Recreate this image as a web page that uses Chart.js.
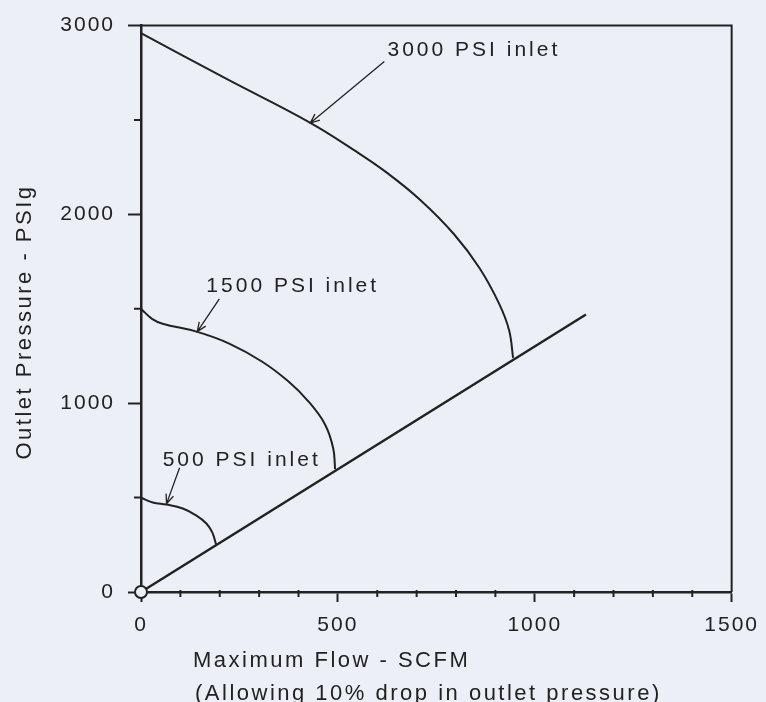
<!DOCTYPE html>
<html>
<head>
<meta charset="utf-8">
<script src="https://cdn.jsdelivr.net/npm/chart.js@4.4.1/dist/chart.umd.min.js"></script>
<style>
  html, body { margin: 0; padding: 0; background: #eceff5; }
  #wrap { width: 766px; height: 702px; }
</style>
</head>
<body>
<div id="wrap"><canvas id="flowChart" width="766" height="702"></canvas></div>
<script>
// Outlet pressure vs maximum flow, one curve per inlet pressure

const flow3000 = [0, 215, 430, 545, 625, 710, 795, 860, 910, 935, 945];
const press3000 = [2960, 2720, 2485, 2335, 2220, 2075, 1895, 1715, 1525, 1385, 1240];

const flow1500 = [0, 28, 55, 141, 224, 307, 374, 425, 467, 488, 493];
const press1500 = [1500, 1447, 1421, 1379, 1316, 1221, 1116, 1010, 889, 763, 650];

const flow500 = [0, 30, 65, 106, 141, 166, 181, 191];
const press500 = [500, 474, 463, 442, 405, 363, 316, 250];

// 10% drop limit line
const flowLimit = [0, 1130];
const pressLimit = [0, 1470];

const curveLabels = ['3000 PSI inlet', '1500 PSI inlet', '500 PSI inlet'];
const xTitle = ['Maximum Flow - SCFM', '(Allowing 10% drop in outlet pressure)'];
const yTitle = 'Outlet Pressure - PSIg';

const INK = '#222222';
const BG = '#eceff5';
const FONT = "'Liberation Sans', Arial, sans-serif";

const pts = (xs, ys) => xs.map((x, i) => ({ x: x, y: ys[i] }));
const isMajorX = v => v % 500 === 0;
const isMajorY = v => v % 1000 === 0;

// where the curve notes sit (data units): text start, arrow tail, arrow tip
const notes = [
    { text: curveLabels[0], at: [626, 2837], from: [618, 2810], to: [430, 2484] },
    { text: curveLabels[1], at: [166, 1589], from: [199, 1553], to: [143, 1379] },
    { text: curveLabels[2], at: [55, 668], from: [98, 658], to: [65, 468] }
];

function arrow(ctx, x1, y1, x2, y2) {
    const a = Math.atan2(y2 - y1, x2 - x1);
    const len = 10, spread = 0.4;
    ctx.beginPath();
    ctx.moveTo(x1, y1);
    ctx.lineTo(x2, y2);
    ctx.moveTo(x2 - len * Math.cos(a - spread), y2 - len * Math.sin(a - spread));
    ctx.lineTo(x2, y2);
    ctx.lineTo(x2 - len * Math.cos(a + spread), y2 - len * Math.sin(a + spread));
    ctx.stroke();
}

const paper = {
    id: 'paper',
    beforeDraw(chart) {
        const ctx = chart.ctx;
        ctx.save();
        ctx.fillStyle = BG;
        ctx.fillRect(0, 0, chart.width, chart.height);
        ctx.restore();
        ctx.letterSpacing = '2px';
    },
    afterDraw(chart) {
        const ctx = chart.ctx;
        const area = chart.chartArea;
        const xs = chart.scales.x, ys = chart.scales.y;
        ctx.save();
        ctx.strokeStyle = INK;
        ctx.lineCap = 'butt';

        // top and right frame
        ctx.lineWidth = 2;
        ctx.beginPath();
        ctx.moveTo(area.left, area.top);
        ctx.lineTo(area.right, area.top);
        ctx.lineTo(area.right, area.bottom);
        ctx.stroke();

        // minor ticks
        ctx.lineWidth = 2;
        ctx.beginPath();
        xs.ticks.forEach(t => {
            if (isMajorX(t.value)) return;
            const px = xs.getPixelForValue(t.value);
            ctx.moveTo(px, area.bottom - 2);
            ctx.lineTo(px, area.bottom + 5);
        });
        ys.ticks.forEach(t => {
            if (isMajorY(t.value)) return;
            const py = ys.getPixelForValue(t.value);
            ctx.moveTo(area.left - 7, py);
            ctx.lineTo(area.left, py);
        });
        ctx.stroke();

        // curve notes
        ctx.lineWidth = 1.3;
        ctx.fillStyle = INK;
        ctx.font = '21px ' + FONT;
        ctx.letterSpacing = '3px';
        ctx.textAlign = 'left';
        ctx.textBaseline = 'alphabetic';
        notes.forEach(n => {
            ctx.fillText(n.text, xs.getPixelForValue(n.at[0]), ys.getPixelForValue(n.at[1]));
            arrow(ctx,
                xs.getPixelForValue(n.from[0]), ys.getPixelForValue(n.from[1]),
                xs.getPixelForValue(n.to[0]), ys.getPixelForValue(n.to[1]));
        });

        // axis titles
        ctx.font = '22px ' + FONT;
        ctx.letterSpacing = '2.5px';
        ctx.fillText(xTitle[0], 193, 667);
        ctx.fillText(xTitle[1], 195, 700);

        ctx.translate(31, 322);
        ctx.rotate(-Math.PI / 2);
        ctx.textAlign = 'center';
        ctx.fillText(yTitle, 0, 0);
        ctx.restore();
    }
};

const curve = (label, xs, ys) => ({
    label: label,
    data: pts(xs, ys),
    showLine: true,
    tension: 0.4,
    borderColor: INK,
    borderWidth: 2,
    pointRadius: 0
});

new Chart(document.getElementById('flowChart'), {
    type: 'scatter',
    data: {
        datasets: [
            {
                label: 'limit',
                data: pts(flowLimit, pressLimit),
                showLine: true,
                clip: false,
                borderColor: INK,
                borderWidth: 2.5,
                pointRadius: [6, 0],
                pointBorderWidth: 2,
                pointBorderColor: INK,
                pointBackgroundColor: BG
            },
            curve(curveLabels[0], flow3000, press3000),
            curve(curveLabels[1], flow1500, press1500),
            curve(curveLabels[2], flow500, press500)
        ]
    },
    options: {
        responsive: false,
        animation: false,
        devicePixelRatio: 1,
        layout: { padding: { top: 22, right: 31, left: 0, bottom: 0 } },
        plugins: {
            legend: { display: false },
            tooltip: { enabled: false }
        },
        scales: {
            x: {
                type: 'linear',
                min: 0,
                max: 1500,
                afterFit: s => { s.height = 110; },
                border: { color: INK, width: 2.5 },
                grid: {
                    drawOnChartArea: false,
                    tickLength: 10,
                    tickWidth: 2,
                    tickColor: c => isMajorX(c.tick.value) ? INK : 'transparent'
                },
                ticks: {
                    stepSize: 100,
                    autoSkip: false,
                    maxRotation: 0,
                    padding: 11,
                    color: INK,
                    font: { family: FONT, size: 21 },
                    callback: v => isMajorX(v) ? String(v) : ''
                }
            },
            y: {
                type: 'linear',
                min: 0,
                max: 3000,
                afterFit: s => { s.width = 141; },
                border: { color: INK, width: 2.5 },
                grid: {
                    drawOnChartArea: false,
                    tickLength: 13,
                    tickWidth: 2,
                    tickColor: c => isMajorY(c.tick.value) ? INK : 'transparent'
                },
                ticks: {
                    stepSize: 500,
                    autoSkip: false,
                    padding: 13,
                    color: INK,
                    font: { family: FONT, size: 21 },
                    callback: v => isMajorY(v) ? String(v) : ''
                }
            }
        }
    },
    plugins: [paper]
});
</script>
</body>
</html>
